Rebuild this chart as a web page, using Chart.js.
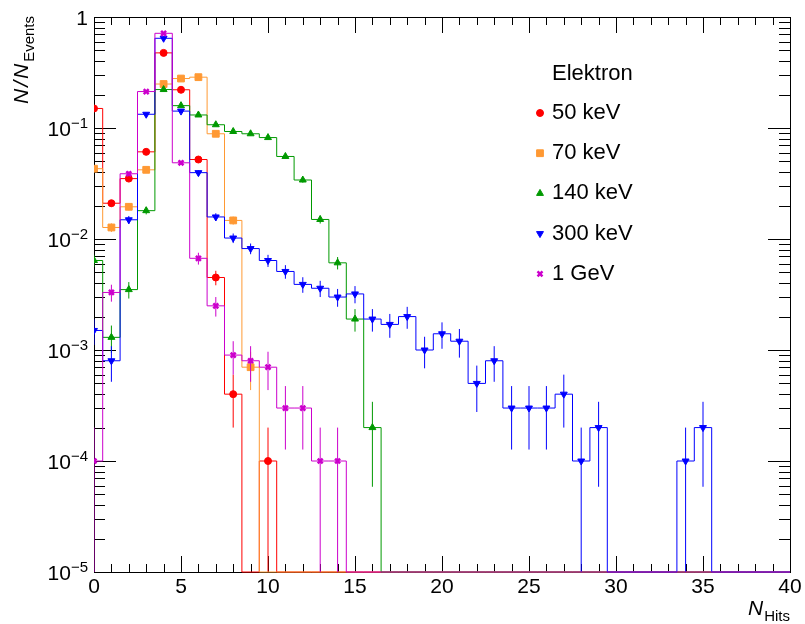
<!DOCTYPE html>
<html>
<head>
<meta charset="utf-8">
<script src="https://cdn.jsdelivr.net/npm/chart.js@4"></script>
<style>
  html, body { margin: 0; padding: 0; background: #fff; }
  canvas { display: block; }
</style>
</head>
<body>
<canvas id="hitsChart" width="805" height="624"></canvas>
<script>
// Anteil der Ereignisse pro Anzahl Hits, Bin i = i Hits
const legendTitle = "Elektron";
const seriesLabels = ["50 keV", "70 keV", "140 keV", "300 keV", "1 GeV"];
const hits50keV = [0.15, 0.021, 0.035, 0.061, 0.475, 0.221, 0.052, 0.0045, 0.0004, 0, 0.0001];
const hits70keV = [0.043, 0.0127, 0.0195, 0.042, 0.249, 0.279, 0.287, 0.0887, 0.0147, 0.0007];
const hits140keV = [0.0064, 0.0013, 0.0035, 0.018, 0.222, 0.159, 0.131, 0.107, 0.093, 0.0887,
                    0.082, 0.0554, 0.034, 0.015, 0.0061, 0.0019, 0.0002];
const hits300keV = [0.0015, 0.0008, 0.0149, 0.133, 0.643, 0.142, 0.0396, 0.0158, 0.0102, 0.0082,
                    0.0064, 0.0051, 0.0039, 0.0036, 0.003, 0.0032, 0.0019, 0.0017, 0.002, 0.001,
                    0.0014, 0.0012, 0.0005, 0.0008, 0.0003, 0.0003, 0.0003, 0.0004, 0.0001, 0.0002,
                    0, 0, 0, 0, 0.0001, 0.0002];
const hits1GeV = [0.0001, 0.0033, 0.0387, 0.213, 0.713, 0.0486, 0.0067, 0.0025, 0.0009, 0.0008,
                  0.0007, 0.0003, 0.0003, 0.0001, 0.0001];
const nEvents = 10000;   // 1 Ereignis = 1e-4

const xTicks = [0, 5, 10, 15, 20, 25, 30, 35, 40];
const yTicks = [1, 1e-1, 1e-2, 1e-3, 1e-4, 1e-5];
const yTickExponents = ["", "\u22121", "\u22122", "\u22123", "\u22124", "\u22125"];

const nBins = 41;
const yMin = 1e-5;
const yMax = 1;

const seriesValues = [hits50keV, hits70keV, hits140keV, hits300keV, hits1GeV];
const seriesColors = ["#ff0000", "#ff9933", "#009900", "#0000ff", "#cc00cc"];
const seriesMarkers = [
    { pointStyle: "circle", radius: 3.5, rotation: 0, borderWidth: 1 },
    { pointStyle: "rect", radius: 4.8, rotation: 0, borderWidth: 1 },
    { pointStyle: "triangle", radius: 4, rotation: 0, borderWidth: 1 },
    { pointStyle: "triangle", radius: 4, rotation: 180, borderWidth: 1 },
    { pointStyle: "crossRot", radius: 3.5, rotation: 0, borderWidth: 2.5 }
];

const FONT = "'Liberation Sans', Arial, Helvetica, sans-serif";

function stepPoints(values) {
    const pts = [];
    for (let i = 0; i < nBins; i++) {
        const v = values[i] || 0;
        pts.push({ x: i - 0.5, y: v > 0 ? v : yMin });
    }
    pts.push({ x: nBins - 0.5, y: yMin });
    return pts;
}

function errorPoints(values) {
    const pts = [];
    values.forEach((v, i) => {
        if (v <= 0) return;
        const err = Math.sqrt(v / nEvents);
        pts.push({ x: i, y: Math.max(v - err, yMin) });
        pts.push({ x: i, y: v + err });
        pts.push({ x: i, y: null });
    });
    return pts;
}

function markerPoints(values) {
    const pts = [];
    values.forEach((v, i) => { if (v > 0) pts.push({ x: i, y: v }); });
    return pts;
}

const datasets = [];
seriesValues.forEach((values, s) => {
    const color = seriesColors[s];
    const m = seriesMarkers[s];
    const base = (seriesValues.length - 1 - s) * 3;
    datasets.push({
        label: seriesLabels[s],
        data: markerPoints(values),
        showLine: false,
        pointStyle: m.pointStyle,
        pointRadius: m.radius,
        pointRotation: m.rotation,
        pointBorderWidth: m.borderWidth,
        pointBackgroundColor: color,
        pointBorderColor: color,
        order: base
    });
    datasets.push({
        label: seriesLabels[s] + " err",
        data: errorPoints(values),
        borderColor: color,
        borderWidth: 1,
        pointRadius: 0,
        spanGaps: false,
        order: base + 1
    });
    datasets.push({
        label: seriesLabels[s] + " hist",
        data: stepPoints(values),
        borderColor: color,
        borderWidth: 1,
        pointRadius: 0,
        stepped: true,
        clip: { left: 0, top: 0, right: 0, bottom: 2 },
        order: base + 2
    });
});

function drawMarker(ctx, m, color, x, y) {
    ctx.save();
    ctx.fillStyle = color;
    ctx.strokeStyle = color;
    ctx.lineWidth = m.borderWidth;
    Chart.helpers.drawPoint(ctx, { pointStyle: m.pointStyle, radius: m.radius, rotation: m.rotation, borderWidth: m.borderWidth }, x, y);
    ctx.restore();
}

// Rahmen, Ticks, Beschriftungen und Legende im ROOT-Stil
const rootStyle = {
    id: "rootStyle",
    beforeDatasetsDraw(chart) {
        const { ctx, chartArea: a, scales } = chart;
        ctx.save();
        ctx.strokeStyle = "#000";
        ctx.lineWidth = 1;
        ctx.beginPath();
        // x-Ticks unten und oben
        for (let v = 0; v <= 40; v++) {
            const px = Math.round(scales.x.getPixelForValue(v)) + 0.5;
            const len = v % 5 === 0 ? 16 : 8;
            ctx.moveTo(px, a.bottom); ctx.lineTo(px, a.bottom - len);
            ctx.moveTo(px, a.top); ctx.lineTo(px, a.top + len);
        }
        // y-Ticks links und rechts
        for (let d = -5; d <= 0; d++) {
            for (let k = 1; k <= 9; k++) {
                const v = k * Math.pow(10, d);
                if (v > yMax + 1e-12) break;
                const py = Math.round(scales.y.getPixelForValue(v)) + 0.5;
                const len = k === 1 ? 22 : 11;
                ctx.moveTo(a.left, py); ctx.lineTo(a.left + len, py);
                ctx.moveTo(a.right, py); ctx.lineTo(a.right - len, py);
            }
        }
        ctx.stroke();
        ctx.strokeRect(Math.round(a.left) + 0.5, Math.round(a.top) + 0.5,
                       Math.round(a.right - a.left), Math.round(a.bottom - a.top));
        ctx.restore();
    },
    afterDraw(chart) {
        const { ctx, chartArea: a, scales } = chart;
        ctx.save();
        ctx.fillStyle = "#000";

        // x-Beschriftung
        ctx.font = "21px " + FONT;
        ctx.textAlign = "center";
        ctx.textBaseline = "alphabetic";
        xTicks.forEach(v => {
            ctx.fillText(String(v), scales.x.getPixelForValue(v), a.bottom + 21);
        });

        // y-Beschriftung 10^-n
        yTicks.forEach((v, i) => {
            const py = scales.y.getPixelForValue(v);
            const right = a.left - 6;
            if (yTickExponents[i] === "") {
                ctx.font = "21px " + FONT;
                ctx.textAlign = "right";
                ctx.fillText("1", right, py + 8);
            } else {
                ctx.font = "15px " + FONT;
                ctx.textAlign = "right";
                const supW = ctx.measureText(yTickExponents[i]).width;
                ctx.fillText(yTickExponents[i], right, py);
                ctx.font = "21px " + FONT;
                ctx.fillText("10", right - supW, py + 8);
            }
        });

        // Achsentitel x
        ctx.textAlign = "left";
        ctx.font = "15px " + FONT;
        const hitsW = ctx.measureText("Hits").width;
        ctx.font = "italic 21px " + FONT;
        const nW = ctx.measureText("N").width;
        const xStart = a.right - hitsW - nW - 1;
        ctx.fillText("N", xStart, a.bottom + 43);
        ctx.font = "15px " + FONT;
        ctx.fillText("Hits", xStart + nW + 1, a.bottom + 49);

        // Achsentitel y (gedreht)
        ctx.save();
        ctx.translate(28, 104);
        ctx.rotate(-Math.PI / 2);
        ctx.font = "italic 21px " + FONT;
        ctx.textAlign = "left";
        let u = 0;
        ["N", "/", "N"].forEach(t => {
            ctx.fillText(t, u, 0);
            u += ctx.measureText(t).width + 2;
        });
        ctx.font = "15px " + FONT;
        ctx.fillText("Events", u, 6);
        ctx.restore();

        // Legende
        ctx.font = "22px " + FONT;
        ctx.textAlign = "left";
        ctx.textBaseline = "middle";
        ctx.fillText(legendTitle, 552, 74);
        seriesLabels.forEach((label, s) => {
            const y = 113 + s * 40.2;
            ctx.fillStyle = "#000";
            ctx.fillText(label, 552, y);
            drawMarker(ctx, seriesMarkers[s], seriesColors[s], 540, y);
        });
        ctx.restore();
    }
};

document.addEventListener("DOMContentLoaded", () => {
    const ctx = document.getElementById("hitsChart").getContext("2d");
    new Chart(ctx, {
        type: "line",
        data: { datasets: datasets },
        options: {
            responsive: false,
            animation: false,
            parsing: true,
            layout: { padding: { left: 94, right: 15, top: 17, bottom: 52 } },
            plugins: {
                legend: { display: false },
                tooltip: { enabled: false }
            },
            scales: {
                x: { type: "linear", min: 0, max: 40, display: false },
                y: { type: "logarithmic", min: yMin, max: yMax, display: false }
            }
        },
        plugins: [rootStyle]
    });
});
</script>
</body>
</html>
